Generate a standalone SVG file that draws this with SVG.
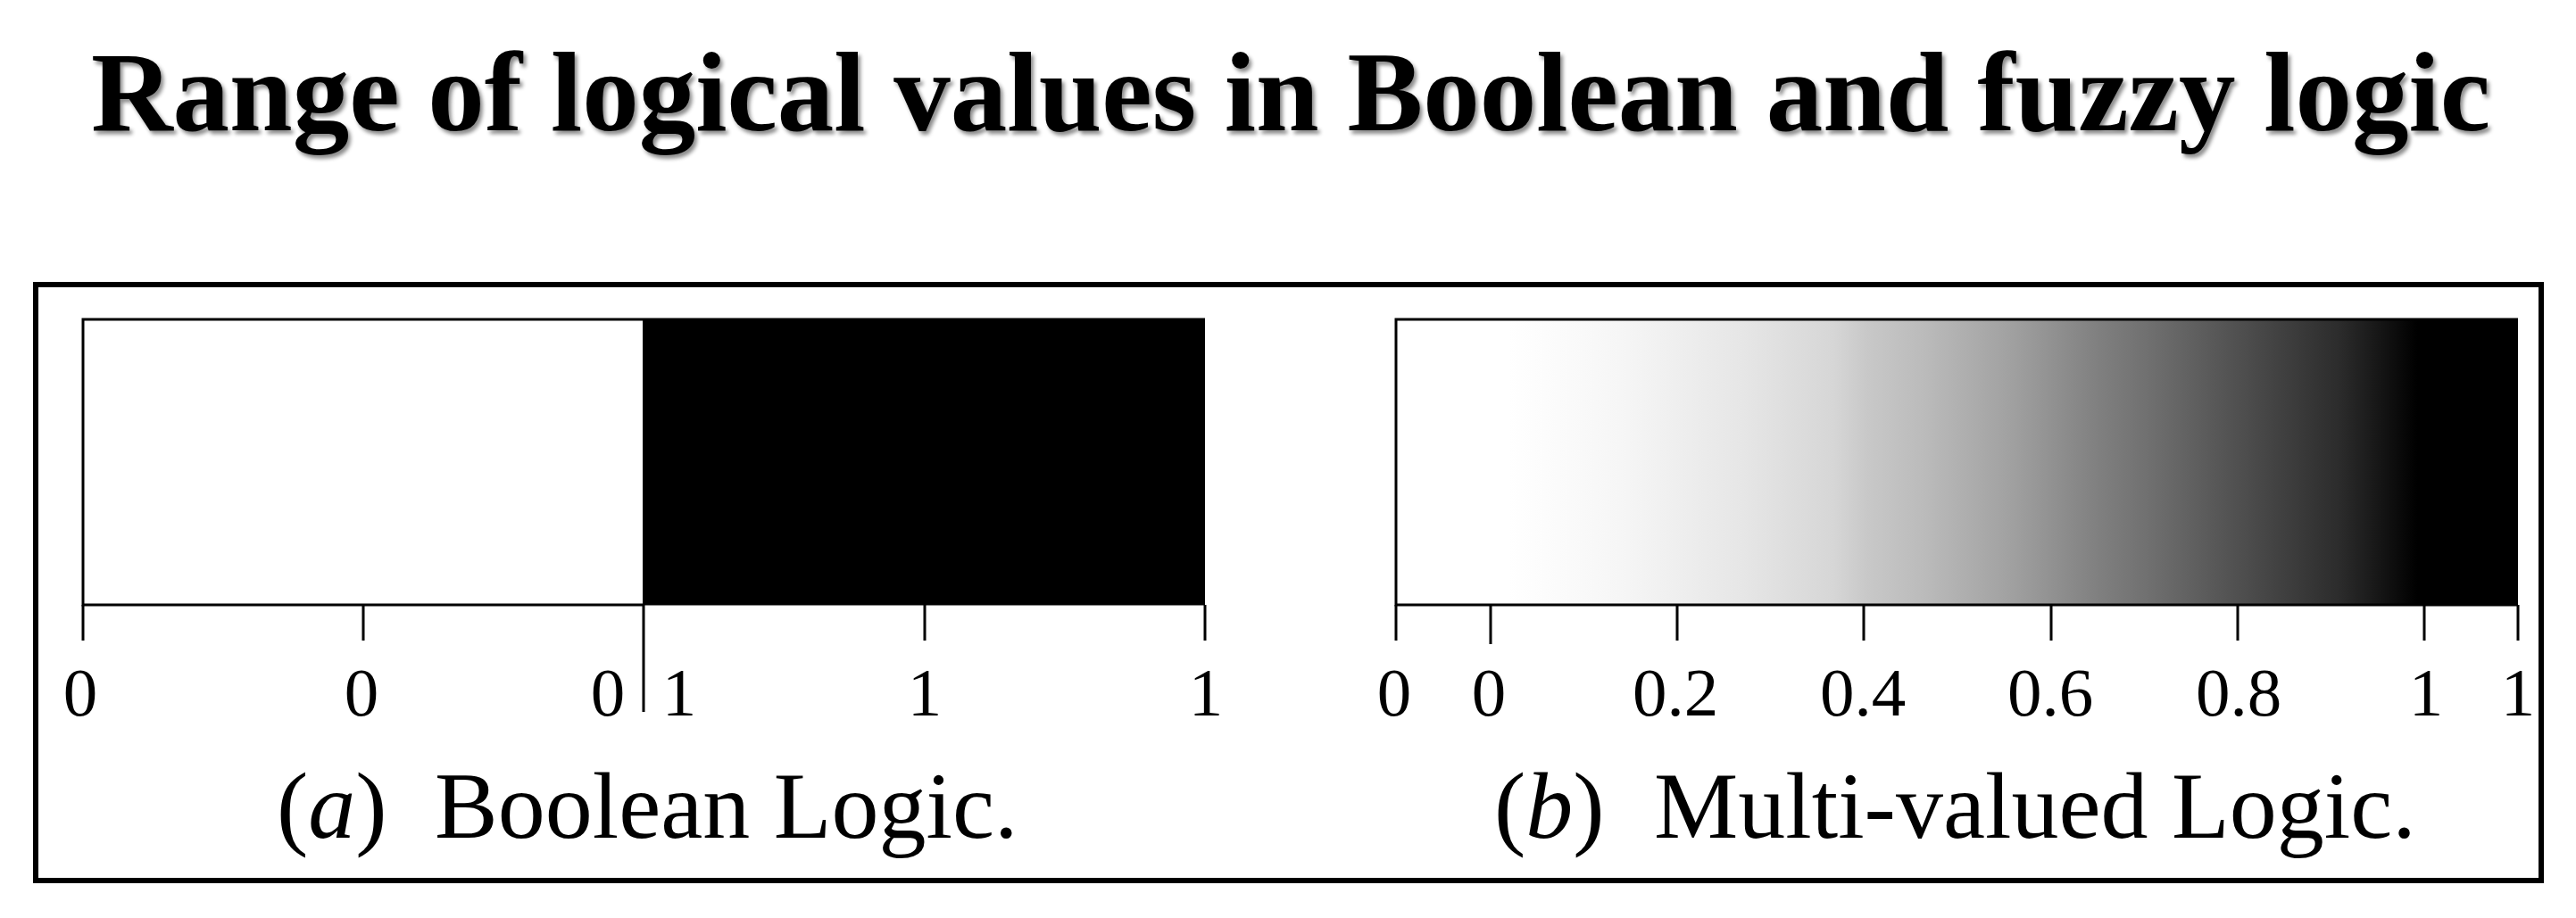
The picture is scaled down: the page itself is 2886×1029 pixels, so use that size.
<svg xmlns="http://www.w3.org/2000/svg" width="2886" height="1029" viewBox="0 0 2886 1029">
  <style>
    .title { font-family: "Liberation Serif", "Times New Roman", serif; font-weight: bold; font-size: 127px; fill: #000; }
    .num { font-family: "Liberation Serif", "Times New Roman", serif; font-size: 77px; fill: #000; text-anchor: middle; }
    .cap { font-family: "Liberation Serif", "Times New Roman", serif; font-size: 106px; fill: #000; }
    .it { font-style: italic; }
    .box { fill: none; stroke: #000; stroke-width: 3; }
    .tick { stroke: #000; stroke-width: 3; fill: none; }
    .frame { fill: none; stroke: #000; stroke-width: 6; }
  </style>
  <defs>
    <linearGradient id="grey" x1="0" y1="0" x2="1" y2="0">
      <stop offset="0" stop-color="#ffffff"/>
      <stop offset="0.10" stop-color="#ffffff"/>
      <stop offset="0.20" stop-color="#f6f6f6"/>
      <stop offset="0.31" stop-color="#e6e6e6"/>
      <stop offset="0.39" stop-color="#d6d6d6"/>
      <stop offset="0.42" stop-color="#c8c8c8"/>
      <stop offset="0.47" stop-color="#bbbbbb"/>
      <stop offset="0.55" stop-color="#a0a0a0"/>
      <stop offset="0.625" stop-color="#808080"/>
      <stop offset="0.67" stop-color="#707070"/>
      <stop offset="0.76" stop-color="#4c4c4c"/>
      <stop offset="0.84" stop-color="#2c2c2c"/>
      <stop offset="0.87" stop-color="#1a1a1a"/>
      <stop offset="0.91" stop-color="#000000"/>
      <stop offset="1" stop-color="#000000"/>
    </linearGradient>
    <filter id="shadow" x="-5%" y="-20%" width="110%" height="150%">
      <feDropShadow dx="3" dy="4" stdDeviation="2" flood-color="#000" flood-opacity="0.45"/>
    </filter>
  </defs>
  <rect width="2886" height="1029" fill="#fff"/>

  <g id="title">
    <text class="title" x="1446" y="146" text-anchor="middle" filter="url(#shadow)">Range of logical values in Boolean and fuzzy logic</text>
  </g>

  <g id="frame">
    <rect class="frame" x="40" y="319" width="2807" height="668"/>
  </g>

  <g id="panel-a">
    <rect x="93" y="358" width="627" height="320" fill="#fff"/>
    <rect x="720" y="356.5" width="630" height="322" fill="#000"/>
    <path class="box" d="M720 358 H93 V678 H720"/>
    <text class="num" x="90" y="802">0</text>
    <text class="num" x="405" y="802">0</text>
    <text class="num" x="681" y="802">0</text>
    <text class="num" x="761" y="802">1</text>
    <text class="num" x="1036" y="802">1</text>
    <text class="num" x="1351" y="802">1</text>
    <text class="cap" x="310" y="939">(<tspan class="it">a</tspan>)</text>
    <text class="cap" x="487" y="939">Boolean Logic.</text>
  </g>

  <g id="panel-b">
    <rect x="1564" y="358" width="1257" height="320" fill="url(#grey)"/>
    <path class="box" d="M2821 358 H1564 V678 H2821"/>
    <text class="num" x="1562" y="802">0</text>
    <text class="num" x="1668" y="802">0</text>
    <text class="num" x="1877" y="802">0.2</text>
    <text class="num" x="2087" y="802">0.4</text>
    <text class="num" x="2297" y="802">0.6</text>
    <text class="num" x="2508" y="802">0.8</text>
    <text class="num" x="2718" y="802">1</text>
    <text class="num" x="2821" y="802">1</text>
    <text class="cap" x="1674" y="939">(<tspan class="it">b</tspan>)</text>
    <text class="cap" x="1853" y="939">Multi-valued Logic.</text>
  </g>

  <g id="connectors">
    <path class="tick" d="M93 678 V718 M407 678 V718 M721 678 V798 M1036 678 V718 M1350 678 V718"/>
    <path class="tick" d="M1564 678 V718 M1670 678 V722 M1879 678 V718 M2088 678 V718 M2298 678 V718 M2507 678 V718 M2716 678 V718 M2821 678 V718"/>
  </g>
</svg>
